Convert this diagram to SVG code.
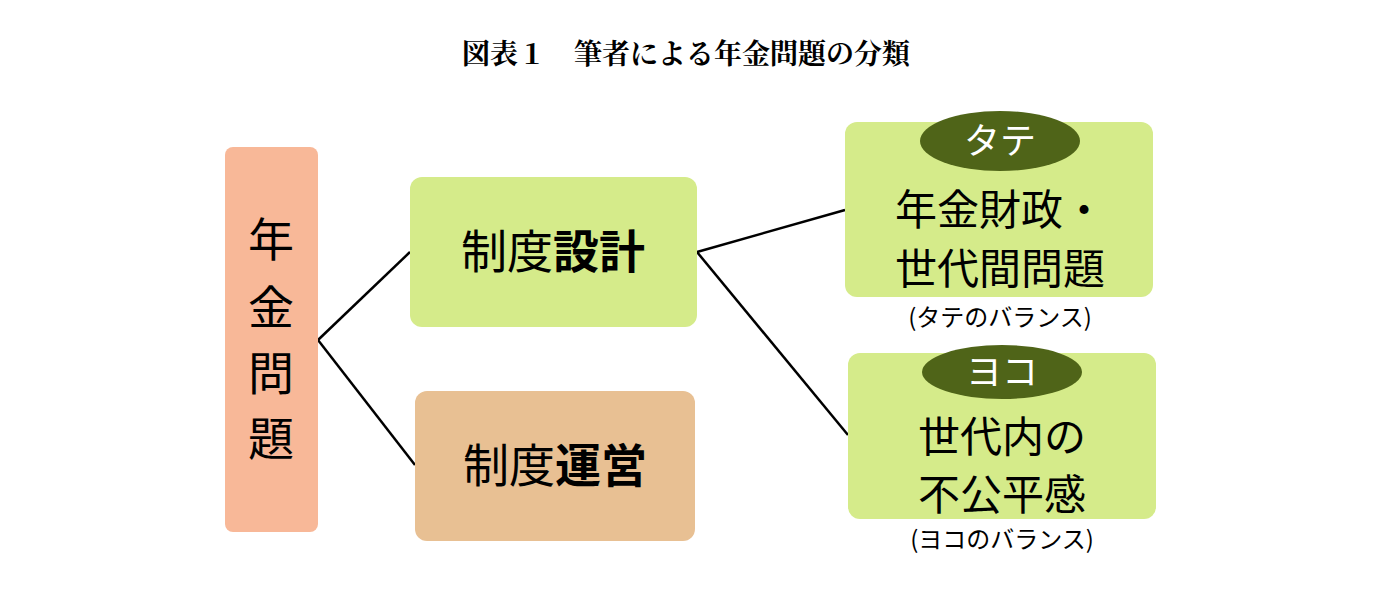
<svg xmlns="http://www.w3.org/2000/svg" width="1379" height="607" viewBox="0 0 1379 607">
<style>
.t{font-family:"Noto Sans CJK JP","Noto Sans",sans-serif;fill:#000}
.big{font-size:46px}
.mid{font-size:42px}
.sub{font-size:24px}
.tag{font-size:36px;fill:#fff}
</style>
<rect width="1379" height="607" fill="#fff"/>
<text x="686" y="64" text-anchor="middle" style="font-family:'Noto Serif CJK JP','Liberation Serif','Noto Sans CJK JP',serif;font-size:28px;font-weight:bold">図表１　筆者による年金問題の分類</text>
<g id="connectors" stroke="#000" stroke-width="2.5" fill="none">
<line x1="318" y1="340" x2="410" y2="252"/>
<line x1="318" y1="340" x2="415" y2="465"/>
<line x1="697" y1="252" x2="845" y2="210"/>
<line x1="697" y1="252" x2="848" y2="435"/>
</g>
<g id="nenkin">
<rect x="225" y="147" width="93" height="385" rx="8" fill="#F8B898"/>
<text class="t big" x="271" text-anchor="middle"><tspan x="271" y="256">年</tspan><tspan x="271" y="324">金</tspan><tspan x="271" y="390">問</tspan><tspan x="271" y="455">題</tspan></text>
</g>
<g id="sekkei">
<rect x="410" y="177" width="287" height="150" rx="12" fill="#D5EB8A"/>
<text class="t big" x="553" y="268" text-anchor="middle">制度<tspan font-weight="bold">設計</tspan></text>
</g>
<g id="unei">
<rect x="415" y="391" width="280" height="150" rx="12" fill="#E8C093"/>
<text class="t big" x="555" y="482" text-anchor="middle">制度<tspan font-weight="bold">運営</tspan></text>
</g>
<g id="tate">
<rect x="845" y="122" width="308" height="175" rx="12" fill="#D5EB8A"/>
<ellipse cx="1000" cy="141" rx="80" ry="30" fill="#4F6418"/>
<text class="t tag" x="1000" y="154" text-anchor="middle">タテ</text>
<text class="t mid" x="1000" y="225" text-anchor="middle">年金財政・</text>
<text class="t mid" x="1000" y="284" text-anchor="middle">世代間問題</text>
<text class="t sub" x="1000" y="326" text-anchor="middle">(タテのバランス)</text>
</g>
<g id="yoko">
<rect x="848" y="353" width="308" height="166" rx="12" fill="#D5EB8A"/>
<ellipse cx="1002" cy="372" rx="80" ry="27" fill="#4F6418"/>
<text class="t tag" x="1002" y="385" text-anchor="middle">ヨコ</text>
<text class="t mid" x="1002" y="452" text-anchor="middle">世代内の</text>
<text class="t mid" x="1002" y="510" text-anchor="middle">不公平感</text>
<text class="t sub" x="1002" y="548" text-anchor="middle">(ヨコのバランス)</text>
</g>
</svg>
